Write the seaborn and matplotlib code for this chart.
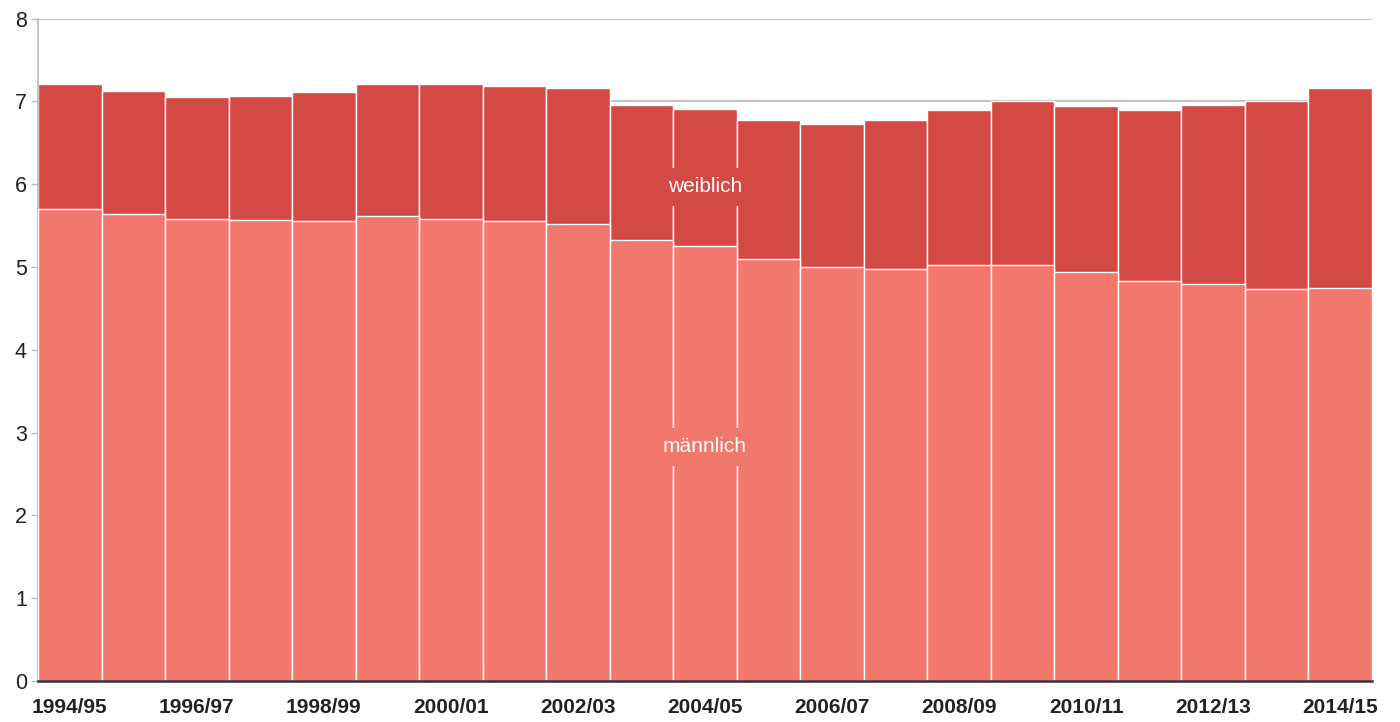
import numpy as np
import pandas as pd
import matplotlib
matplotlib.use("Agg")
import matplotlib.pyplot as plt
import seaborn as sns

seasons = ["1994/95", "1995/96", "1996/97", "1997/98", "1998/99", "1999/00",
           "2000/01", "2001/02", "2002/03", "2003/04", "2004/05", "2005/06",
           "2006/07", "2007/08", "2008/09", "2009/10", "2010/11", "2011/12",
           "2012/13", "2013/14", "2014/15"]
maennlich = [5.70, 5.64, 5.58, 5.57, 5.56, 5.62, 5.58, 5.55, 5.52, 5.33, 5.25,
             5.10, 5.00, 4.97, 5.02, 5.03, 4.94, 4.83, 4.79, 4.73, 4.75]
weiblich = [1.51, 1.49, 1.47, 1.50, 1.55, 1.59, 1.63, 1.64, 1.64, 1.63, 1.66,
            1.67, 1.73, 1.81, 1.88, 1.98, 2.00, 2.07, 2.17, 2.27, 2.41]
y_ticks = [0, 1, 2, 3, 4, 5, 6, 7, 8]

df = pd.DataFrame({"season": seasons, "m": maennlich, "w": weiblich})
df["total"] = df["m"] + df["w"]

c_m = "#F2776D"
c_w = "#D34A44"

sns.set_theme(style="white")
plt.rcParams["font.family"] = ["Liberation Sans", "DejaVu Sans"]

fig = plt.figure(figsize=(14, 7.22), dpi=100)
ax = fig.add_axes([38 / 1400, 41 / 722, (1372 - 38) / 1400, (681 - 18.6) / 722])

sns.barplot(data=df, x="season", y="total", color=c_w, saturation=1, width=1,
            edgecolor="white", linewidth=1.0, ax=ax, zorder=2)
sns.barplot(data=df, x="season", y="m", color=c_m, saturation=1, width=1,
            edgecolor="white", linewidth=1.0, ax=ax, zorder=3)

ax.set_xlim(-0.5, len(seasons) - 0.5)
ax.set_ylim(0, 8)
ax.set_yticks(y_ticks)
ax.set_yticklabels([str(t) for t in y_ticks], fontsize=15.5, color="#222222")
ax.set_xticks(range(len(seasons)))
ax.set_xticklabels([s if i % 2 == 0 else "" for i, s in enumerate(seasons)],
                   fontsize=15, fontweight="bold", color="#222222")
ax.set_xlabel("")
ax.set_ylabel("")

ax.grid(axis="y", color="#c4c4c4", linewidth=1.5, zorder=0)
ax.set_axisbelow(True)
ax.tick_params(axis="y", length=5, width=1, color="#bbbbbb", pad=3, left=True)
ax.tick_params(axis="x", length=0, pad=12)

for s in ["top", "right"]:
    ax.spines[s].set_visible(False)
ax.spines["left"].set_color("#bbbbbb")
ax.spines["left"].set_linewidth(1.2)
ax.spines["bottom"].set_color("#333333")
ax.spines["bottom"].set_linewidth(1.8)
ax.spines["bottom"].set_zorder(5)

ax.text(10, 5.97, "weiblich", ha="center", va="center", color="white",
        fontsize=15, zorder=6,
        bbox=dict(boxstyle="square,pad=0.45", facecolor=c_w, edgecolor="none"))
ax.text(10, 2.83, "männlich", ha="center", va="center", color="white",
        fontsize=15, zorder=6,
        bbox=dict(boxstyle="square,pad=0.45", facecolor=c_m, edgecolor="none"))

fig.savefig("out.png", dpi=100)
